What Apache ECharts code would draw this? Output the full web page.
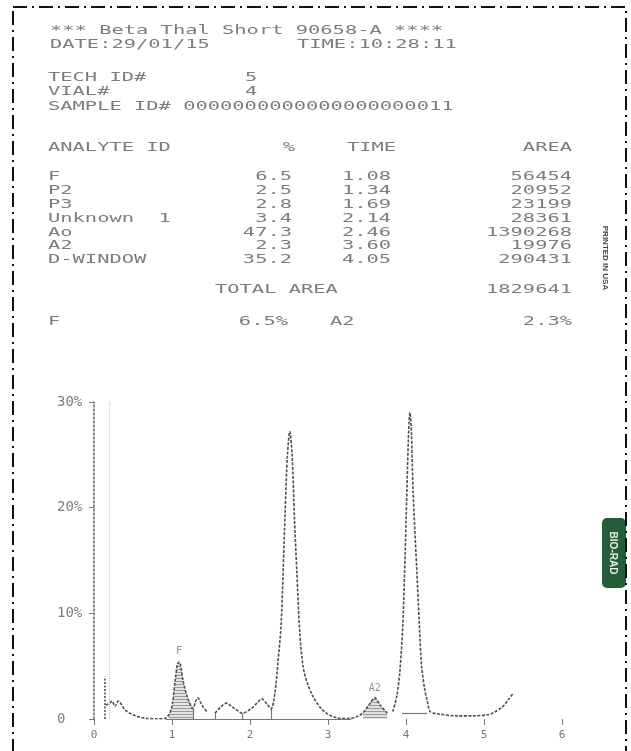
<!DOCTYPE html>
<html>
<head>
<meta charset="utf-8">
<script src="https://cdn.jsdelivr.net/npm/echarts@6/dist/echarts.min.js"></script>
<style>
  html, body { margin: 0; padding: 0; background: #fff; }
  #main { width: 631px; height: 751px; }
</style>
</head>
<body>
<div id="main"></div>
<script>
// report header
var titleLine = '*** Beta Thal Short 90658-A ****';
var dateText = 'DATE:29/01/15';
var timeText = 'TIME:10:28:11';
var techId = '5';
var vialNo = '4';
var sampleId = '0000000000000000000011';

// result table
var analyteNames = ['F', 'P2', 'P3', 'Unknown  1', 'Ao', 'A2', 'D-WINDOW'];
var analytePct = ['6.5', '2.5', '2.8', '3.4', '47.3', '2.3', '35.2'];
var analyteTime = ['1.08', '1.34', '1.69', '2.14', '2.46', '3.60', '4.05'];
var analyteArea = ['56454', '20952', '23199', '28361', '1390268', '19976', '290431'];
var totalArea = '1829641';
var summaryNames = ['F', 'A2'];
var summaryPct = ['6.5%', '2.3%'];

// chromatogram trace (time min, %), '-' = pen gap
var traceT = [0.15, 0.20, 0.23, 0.27, 0.31, 0.34, 0.40, 0.50, 0.60, 0.68, 0.80, 0.91,
  0.96, 1.00, 1.04, 1.07, 1.09, 1.11, 1.14, 1.20, 1.27, 1.30, 1.33, 1.37, 1.41, 1.45, '-',
  1.55, 1.62, 1.70, 1.78, 1.84, 1.90, 2.00, 2.09, 2.15, 2.22, 2.27,
  2.32, 2.36, 2.40, 2.45, 2.48, 2.51, 2.54, 2.57, 2.60, 2.64, 2.68, 2.73, 2.81, 2.90, 2.99, 3.12, 3.25, 3.38,
  3.45, 3.54, 3.60, 3.67, 3.76, '-',
  3.83, 3.88, 3.92, 3.96, 4.00, 4.03, 4.05, 4.07, 4.09, 4.14, 4.17, 4.20, 4.24, 4.27, 4.31,
  4.40, 4.65, 4.86, 5.05, 5.12, 5.23, 5.31, 5.37];
var traceP = [1.3, 1.5, 1.7, 1.2, 1.7, 1.5, 0.85, 0.4, 0.15, 0.05, 0.02, 0.05,
  0.4, 1.2, 3.6, 5.2, 5.4, 5.1, 3.7, 2.0, 1.0, 1.6, 2.0, 1.5, 1.0, 0.7, '-',
  0.55, 1.1, 1.5, 1.1, 0.8, 0.55, 0.9, 1.5, 1.9, 1.4, 0.95,
  2.5, 5.5, 9.1, 19.5, 25, 27.2, 25, 19, 14, 8, 5, 3.5, 2.1, 1.1, 0.5, 0.1, 0.05, 0.25,
  0.6, 1.5, 2.0, 1.3, 0.55, '-',
  0.7, 2.1, 4.4, 9.1, 18.5, 26.4, 29.0, 27, 21.7, 13.8, 9.1, 5, 2.8, 1.8, 0.7,
  0.5, 0.3, 0.3, 0.4, 0.6, 1.1, 1.8, 2.4];

// injection spike
var spikeT = [0.14, 0.14];
var spikeP = [0, 4.0];

// shaded peaks, integration baselines, drop lines
var fillRanges = [[0.96, 1.27], [3.45, 3.76]];
var baseLines = [[0.92, 3.30, 0], [3.95, 4.27, 0.55]];
var dropT = [1.27, 1.55, 1.90, 2.27];
var dropP = [1.0, 0.55, 0.55, 0.95];
var guideT = 0.2;

// peak labels
var peakLabels = ['F', 'A2'];
var peakLabelT = [1.09, 3.60];
var peakLabelP = [6.4, 2.9];

var chart = echarts.init(document.getElementById('main'));

var tracePts = traceT.map(function (t, i) { return [t, traceP[i]]; });

// hatch pattern for shaded peaks
var hatch = document.createElement('canvas');
hatch.width = 4; hatch.height = 3;
var hctx = hatch.getContext('2d');
hctx.fillStyle = '#e2e2e2'; hctx.fillRect(0, 0, 4, 3);
hctx.fillStyle = '#9a9a9a'; hctx.fillRect(0, 0, 4, 1);

var gray = '#7d7d7d';
function txt(x, y, s, align) {
  return {
    type: 'text', x: x, y: y, scaleX: 1.57,
    style: { text: s, x: 0, y: 0, fill: gray, fontSize: 13, fontFamily: 'DejaVu Sans Mono',
      align: align || 'left', verticalAlign: 'middle' }
  };
}

var graphics = [];
graphics.push(txt(50, 31, titleLine));
graphics.push(txt(50, 45, dateText));
graphics.push(txt(297, 45, timeText));
graphics.push(txt(48, 78, 'TECH ID#'));
graphics.push(txt(245, 78, techId));
graphics.push(txt(48, 92, 'VIAL#'));
graphics.push(txt(245, 92, vialNo));
graphics.push(txt(48, 107, 'SAMPLE ID# ' + sampleId));
graphics.push(txt(48, 148, 'ANALYTE ID'));
graphics.push(txt(289, 148, '%', 'center'));
graphics.push(txt(347, 148, 'TIME'));
graphics.push(txt(572, 148, 'AREA', 'right'));
analyteNames.forEach(function (n, i) {
  var y = 177 + i * 13.8;
  graphics.push(txt(48, y, n));
  graphics.push(txt(292, y, analytePct[i], 'right'));
  graphics.push(txt(342, y, analyteTime[i]));
  graphics.push(txt(572, y, analyteArea[i], 'right'));
});
graphics.push(txt(215, 290, 'TOTAL AREA'));
graphics.push(txt(572, 290, totalArea, 'right'));
graphics.push(txt(48, 322, summaryNames[0]));
graphics.push(txt(288, 322, summaryPct[0], 'right'));
graphics.push(txt(330, 322, summaryNames[1]));
graphics.push(txt(572, 322, summaryPct[1], 'right'));

// paper marks
graphics.push({
  type: 'text', x: 605, y: 258, rotation: -Math.PI / 2,
  style: { text: 'PRINTED IN USA', fontSize: 8, fontWeight: 'bold', fontFamily: 'Liberation Sans',
    fill: '#444', align: 'center', verticalAlign: 'middle' }
});
graphics.push({
  type: 'rect', shape: { x: 602, y: 518, width: 24, height: 70, r: 5 },
  style: { fill: '#245e38' }
});
graphics.push({
  type: 'text', x: 613, y: 553, rotation: -Math.PI / 2,
  style: { text: 'BIO-RAD', fontSize: 10, fontWeight: 'bold', fontFamily: 'Liberation Sans',
    fill: '#e8f0ea', align: 'center', verticalAlign: 'middle' }
});
graphics.push({
  type: 'rect', shape: { x: 13, y: 7, width: 613, height: 800 },
  style: { fill: null, stroke: '#111', lineWidth: 2, lineDash: [14, 5, 2, 5] }
});

var lineMarks = [];
baseLines.forEach(function (b) {
  lineMarks.push([{ coord: [b[0], b[2]] }, { coord: [b[1], b[2]] }]);
});
dropT.forEach(function (t, i) {
  lineMarks.push([{ coord: [t, 0] }, { coord: [t, dropP[i]] }]);
});

var series = [];
fillRanges.forEach(function (r) {
  series.push({
    type: 'line', smooth: 0.3, showSymbol: false, silent: true, z: 1,
    data: tracePts.filter(function (p) { return p[0] !== '-' && p[0] >= r[0] && p[0] <= r[1]; }),
    lineStyle: { width: 0 },
    areaStyle: { color: { image: hatch, repeat: 'repeat' }, opacity: 1 }
  });
});
series.push({
  type: 'line', smooth: 0.3, showSymbol: false, z: 3,
  data: tracePts,
  lineStyle: { color: '#4f4f4f', width: 1.6, type: [3, 1.5] },
  markLine: {
    silent: true, symbol: 'none', label: { show: false },
    lineStyle: { color: '#777', width: 1.2, type: 'solid' },
    data: lineMarks.concat([{ xAxis: guideT, lineStyle: { color: '#c4c4c4', type: 'dotted', width: 1 } }])
  }
});
series.push({
  type: 'line', showSymbol: false, z: 3,
  data: spikeT.map(function (t, i) { return [t, spikeP[i]]; }),
  lineStyle: { color: '#555', width: 1.6, type: [2, 1.5] }
});
series.push({
  type: 'scatter', symbolSize: 0, z: 4,
  data: peakLabelT.map(function (t, i) { return [t, peakLabelP[i], peakLabels[i]]; }),
  label: { show: true, position: 'inside', formatter: function (p) { return p.data[2]; },
    color: '#777', fontSize: 10, fontFamily: 'DejaVu Sans Mono' }
});

var option = {
  backgroundColor: '#fff',
  animation: false,
  grid: { left: 94, right: 69, top: 402, bottom: 32 },
  xAxis: {
    type: 'value', min: 0, max: 6, interval: 1, offset: 7,
    axisLine: { show: false },
    axisTick: { show: true, length: 6, lineStyle: { color: '#777' } },
    splitLine: { show: false },
    axisLabel: { margin: 4, color: '#777', fontSize: 11, fontFamily: 'DejaVu Sans Mono' }
  },
  yAxis: {
    type: 'value', min: 0, max: 30, interval: 10,
    axisLine: { show: true, lineStyle: { color: '#666', width: 1.5, type: [2, 2] } },
    axisTick: { show: true, length: 5, lineStyle: { color: '#777' } },
    splitLine: { show: false },
    axisLabel: { align: 'left', margin: 37, color: gray, fontSize: 14, fontFamily: 'DejaVu Sans Mono',
      formatter: function (v) { return v === 0 ? '0' : v + '%'; } }
  },
  graphic: graphics,
  series: series
};

option && chart.setOption(option);
</script>
</body>
</html>
